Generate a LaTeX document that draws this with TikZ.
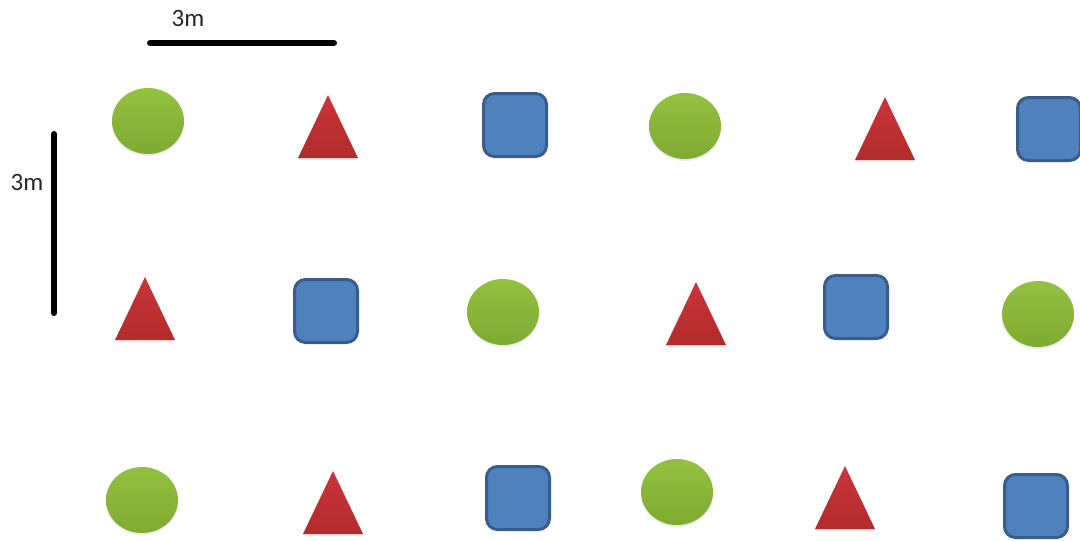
\documentclass[tikz,border=0pt]{standalone}
\usepackage{fontspec}
\setmainfont{Carlito}
\usetikzlibrary{shadows}
\definecolor{gtop}{HTML}{93C13F}
\definecolor{gbot}{HTML}{7FAA33}
\definecolor{rtop}{HTML}{C9353A}
\definecolor{rbot}{HTML}{B22B2B}
\definecolor{bfill}{HTML}{4F81BD}
\definecolor{bline}{HTML}{385D8A}
\tikzset{
  ballshape/.style={top color=gtop, bottom color=gbot, draw=none,
    drop shadow={shadow xshift=0pt, shadow yshift=-2pt, opacity=0.15}},
  trishape/.style={top color=rtop, bottom color=rbot, draw=none,
    drop shadow={shadow xshift=0pt, shadow yshift=-2pt, opacity=0.15}},
  boxshape/.style={fill=bfill, draw=bline, line width=3pt, rounded corners=11pt},
  bar/.style={line width=6pt, line cap=round},
  lbl/.style={font=\fontsize{25}{28}\selectfont, inner sep=0pt, text=black!85}
}
\newcommand{\ball}[2]{\path[ballshape] (#1,-#2) ellipse [x radius=36, y radius=33];}
\newcommand{\tri}[2]{\path[trishape] (#1,-#2) -- ++(30,-63) -- ++(-60,0) -- cycle;}
\newcommand{\sqbox}[2]{\path[boxshape] (#1-31.5,-#2-31.5) rectangle (#1+31.5,-#2+31.5);}
\begin{document}
\begin{tikzpicture}[x=1pt,y=1pt]
\useasboundingbox (0,0) rectangle (1080,-541);
\clip (0,0) rectangle (1080,-541);
% scale bars
\coordinate (h1) at (150,-43);
\coordinate (h2) at (334,-43);
\coordinate (v1) at (54,-134);
\coordinate (v2) at (54,-313);
\draw[bar] (h1) -- (h2);
\draw[bar] (v1) -- (v2);
\node[lbl] (hl) at (188,-18) {3m};
\node[lbl] (vl) at (27,-182) {3m};
% row 1
\ball{148}{121}
\tri{328}{95}
\sqbox{515}{125}
\ball{685}{126}
\tri{885}{97}
\sqbox{1049}{129}
% row 2
\tri{145}{277}
\sqbox{326}{311}
\ball{503}{312}
\tri{696}{282}
\sqbox{856}{307}
\ball{1038}{314}
% row 3
\ball{142}{500}
\tri{333}{471}
\sqbox{518}{498}
\ball{677}{492}
\tri{845}{466}
\sqbox{1036}{506}
\end{tikzpicture}
\end{document}
